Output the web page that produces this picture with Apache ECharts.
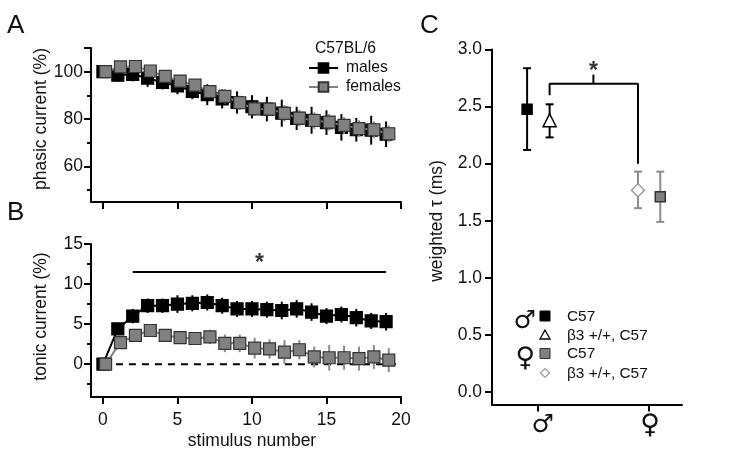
<!DOCTYPE html>
<html><head><meta charset="utf-8">
<style>html,body{margin:0;padding:0;background:#fff}#c{width:742px;height:472px}</style>
<script src="https://cdn.jsdelivr.net/npm/echarts@6/dist/echarts.min.js"></script>
</head><body><div id="c"></div>
<script>
const stimulus = [0,1,2,3,4,5,6,7,8,9,10,11,12,13,14,15,16,17,18,19];
const femaleShift = 0.18;
const phasicMales = [100,98.5,98.9,97.3,95.5,94,91.7,90.3,88.5,87,85.2,84.2,82.5,80.3,79.5,78.5,76.5,75.5,75.3,73.6];
const phasicMalesErr = [0.8,2.8,3,3.7,3,3.5,3.3,4.4,4,4.7,4.9,5.2,5.7,4.9,5.7,5.2,5.6,5,6.1,5.4];
const phasicFemales = [100,102,102.2,100.3,98,96,94.3,91.6,89.6,86.9,84.3,84.2,82.4,80.4,79.4,78.7,77.3,76,75.5,73.8];
const phasicFemalesErr = [0.5,1,1.5,1.5,2,2,2.5,2.5,3,3,3,3,3.5,3.5,3.5,3.5,3.5,3.5,3.5,3.5];
const tonicMales = [0,4.4,6,7.3,7.3,7.5,7.6,7.7,7.3,6.9,6.9,6.8,6.7,6.9,6.5,6,6.2,5.8,5.4,5.3];
const tonicMalesErr = [0,0.6,0.9,0.9,0.9,1.1,1,1,1,1,1,1,1.1,1.1,1.1,1,1,1.1,1,1.1];
const tonicFemales = [0,2.7,3.6,4.2,3.6,3.3,3.2,3.4,2.6,2.6,2,1.9,1.5,1.8,0.9,0.8,0.8,0.7,0.9,0.5];
const tonicFemalesErr = [0,0.6,0.7,0.7,0.7,0.8,0.8,0.9,1.1,1.1,1.3,1.2,1.5,1.2,1.3,1.6,1.5,1.5,1.5,1.5];
const xTicks = [0,5,10,15,20];
const phasicMajor = [60,80,100,110], phasicLabels = [60,80,100], phasicMinor = [50,70,90];
const tonicMajor = [0,5,10,15], tonicMinor = [-2.5,2.5,7.5,12.5];
const tauTicks = [0,0.5,1,1.5,2,2.5,3];
const sexTicks = [1,2];
const tauPoints = {
  maleC57:{x:0.905,y:2.477,lo:2.12,hi:2.836},
  maleB3:{x:1.107,y:2.38,lo:2.23,hi:2.52},
  femaleB3:{x:1.90,y:1.767,lo:1.61,hi:1.93},
  femaleC57:{x:2.10,y:1.71,lo:1.49,hi:1.93}
};
const tauBracket = [[1.107,2.6],[1.107,2.7],[1.9,2.7],[1.9,2.0]];
const tauStem = [[1.5,2.7],[1.5,2.78]];
const tonicSigLine = [[2,11.5],[19,11.5]];
const baseline = [[0,0],[20,0]];

const FONT = '"Liberation Sans", Arial, sans-serif';
const INK = '#111', GREY = '#808080', GREYLINE = '#8c8c8c', EDGE = '#333';

function errSeries(points, color, xi, yi, cap, z){
  return {type:'custom', xAxisIndex:xi, yAxisIndex:yi, z:z, silent:true, clip:false,
    data:points,
    encode:{x:0,y:[1,2]},
    renderItem:function(p,api){
      const a=api.coord([api.value(0),api.value(1)]), b=api.coord([api.value(0),api.value(2)]);
      const st={stroke:color,lineWidth:2,fill:null};
      const kids=[{type:'line',shape:{x1:a[0],y1:a[1],x2:b[0],y2:b[1]},style:st}];
      if(cap){
        kids.push({type:'line',shape:{x1:a[0]-cap,y1:a[1],x2:a[0]+cap,y2:a[1]},style:st});
        kids.push({type:'line',shape:{x1:b[0]-cap,y1:b[1],x2:b[0]+cap,y2:b[1]},style:st});
      }
      return {type:'group',children:kids};
    }};
}
const errs=(vals,e,shift)=>vals.map((v,i)=>[stimulus[i]+shift,v-e[i],v+e[i]]);
const pts=(vals,shift)=>vals.map((v,i)=>[stimulus[i]+shift,v]);
function lineS(name,data,color,fill,border,xi,yi,z){
  return {name:name,type:'line',xAxisIndex:xi,yAxisIndex:yi,z:z,data:data,symbol:'rect',symbolSize:12,
    showSymbol:true,silent:true,animation:false,clip:false,
    lineStyle:{color:color,width:2},itemStyle:{color:fill,borderColor:border,borderWidth:1.2}};
}
function plain(data,xi,yi,z,extra){
  return {type:'line',xAxisIndex:xi,yAxisIndex:yi,z:z,data:data,symbol:'none',silent:true,clip:false,
    lineStyle:Object.assign({color:'#000',width:2},extra||{})};
}
function star(pt,xi,yi){
  return {type:'scatter',xAxisIndex:xi,yAxisIndex:yi,z:9,data:[pt],symbolSize:0,silent:true,clip:false,
    label:{show:true,formatter:'*',position:'inside',fontFamily:FONT,fontWeight:'bold',fontSize:23,color:'#000'}};
}
function tauMark(p,symbol,size,fill,border){
  return {type:'scatter',xAxisIndex:2,yAxisIndex:4,z:6,data:[[p.x,p.y]],symbol:symbol,symbolSize:size,silent:true,clip:false,
    itemStyle:{color:fill,borderColor:border,borderWidth:1.5,opacity:1}};
}
const axisLine={show:true,onZero:false,lineStyle:{color:'#000',width:2}};
const tick=(vals,len)=>({show:true,length:len,customValues:vals,lineStyle:{color:'#000',width:2}});
const lab=(vals,extra)=>Object.assign({show:true,customValues:vals,fontFamily:FONT,fontSize:17.5,color:INK,margin:8},extra||{});
const nameStyle=(pad)=>({fontFamily:FONT,fontSize:17.5,color:INK,padding:pad});
function minorAxis(grid,min,max,vals){
  return {type:'value',gridIndex:grid,min:min,max:max,position:'left',splitLine:{show:false},
    axisLine:{show:false,onZero:false},axisLabel:{show:false},axisTick:tick(vals,4)};
}
const sexGlyph={fontFamily:'"DejaVu Sans"',color:INK,textBorderColor:'#fff',textBorderWidth:0.8};
const option={
  animation:false,
  backgroundColor:'#fff',
  textStyle:{fontFamily:FONT},
  legend:{data:['males','females'],orient:'vertical',left:303,top:55,itemWidth:29,itemHeight:12,itemGap:3,selectedMode:false,
    textStyle:{fontFamily:FONT,fontSize:15.7,color:INK,padding:[0,0,0,3]}},
  grid:[
    {left:91,top:48,width:310,height:154},
    {left:91,top:244,width:310,height:153},
    {left:492,top:49.5,width:190,height:355}
  ],
  xAxis:[
    {type:'value',gridIndex:0,min:-0.8,max:20,position:'bottom',splitLine:{show:false},axisLine:axisLine,axisTick:tick(xTicks,7),axisLabel:{show:false}},
    {type:'value',gridIndex:1,min:-0.8,max:20,position:'bottom',splitLine:{show:false},axisLine:axisLine,axisTick:tick(xTicks,7),axisLabel:lab(xTicks,{margin:14}),
      name:'stimulus number',nameLocation:'middle',nameGap:35,nameTextStyle:nameStyle([0,0,0,12])},
    {type:'value',gridIndex:2,min:0.59,max:2.295,position:'bottom',splitLine:{show:false},axisLine:axisLine,axisTick:tick(sexTicks,7),
      axisLabel:{show:true,customValues:sexTicks,margin:8,
        formatter:v=>v===1?'{m|♂}':'{f|♀}',
        rich:{m:Object.assign({fontSize:25,padding:[0,0,0,10]},sexGlyph),f:Object.assign({fontSize:27,padding:[0,0,0,2]},sexGlyph)}}}
  ],
  yAxis:[
    {type:'value',gridIndex:0,min:45,max:110,position:'left',splitLine:{show:false},axisLine:axisLine,axisTick:tick(phasicMajor,7),axisLabel:lab(phasicLabels),
      name:'phasic current (%)',nameLocation:'middle',nameGap:41,nameTextStyle:nameStyle([0,0,0,12])},
    minorAxis(0,45,110,phasicMinor),
    {type:'value',gridIndex:1,min:-4.1,max:15,position:'left',splitLine:{show:false},axisLine:axisLine,axisTick:tick(tonicMajor,7),axisLabel:lab(tonicMajor),
      name:'tonic current (%)',nameLocation:'middle',nameGap:41,nameTextStyle:nameStyle([0,0,0,8])},
    minorAxis(1,-4.1,15,tonicMinor),
    {type:'value',gridIndex:2,min:-0.11,max:3,position:'left',splitLine:{show:false},axisLine:axisLine,axisTick:tick(tauTicks,7),
      axisLabel:lab(tauTicks,{formatter:v=>v.toFixed(1),margin:10}),
      name:'weighted τ (ms)',nameLocation:'middle',nameGap:46,nameTextStyle:nameStyle([0,0,0,12])}
  ],
  series:[
    errSeries(errs(phasicMales,phasicMalesErr,0),'#000',0,0,0,2),
    lineS('males',pts(phasicMales,0),'#000','#000','#000',0,0,3),
    errSeries(errs(phasicFemales,phasicFemalesErr,femaleShift),GREYLINE,0,0,0,4),
    lineS('females',pts(phasicFemales,femaleShift),GREY,GREY,EDGE,0,0,5),

    plain(baseline,1,2,1,{type:[7,6]}),
    errSeries(errs(tonicMales,tonicMalesErr,0),'#000',1,2,0,2),
    lineS('males',pts(tonicMales,0),'#000','#000','#000',1,2,3),
    errSeries(errs(tonicFemales,tonicFemalesErr,femaleShift),GREYLINE,1,2,0,4),
    lineS('females',pts(tonicFemales,femaleShift),GREY,GREY,EDGE,1,2,5),
    plain(tonicSigLine,1,2,6),
    star([10.5,12.5],1,2),

    errSeries([[tauPoints.maleC57.x,tauPoints.maleC57.lo,tauPoints.maleC57.hi],[tauPoints.maleB3.x,tauPoints.maleB3.lo,tauPoints.maleB3.hi]],'#000',2,4,4,3),
    errSeries([[tauPoints.femaleB3.x,tauPoints.femaleB3.lo,tauPoints.femaleB3.hi],[tauPoints.femaleC57.x,tauPoints.femaleC57.lo,tauPoints.femaleC57.hi]],GREYLINE,2,4,4,3),
    tauMark(tauPoints.maleC57,'rect',10,'#000','#000'),
    tauMark(tauPoints.maleB3,'triangle',13,'#fff','#000'),
    tauMark(tauPoints.femaleB3,'diamond',13,'#fff','#9a9a9a'),
    tauMark(tauPoints.femaleC57,'rect',10,GREY,EDGE),
    plain(tauBracket,2,4,2),
    plain(tauStem,2,4,2),
    star([1.5,2.81],2,4)
  ],
  graphic:[
    ...[['A',7,13],['B',7,200],['C',420,13]].map(a=>({type:'text',left:a[1],top:a[2],style:{text:a[0],font:'26px '+FONT,fill:INK}})),
    {type:'text',left:315,top:41,style:{text:'C57BL/6',font:'15.7px '+FONT,fill:INK}},
    {type:'text',left:513,top:309,style:{text:'♂',font:'25px "DejaVu Sans"',fill:INK,stroke:'#fff',lineWidth:0.8}},
    {type:'text',left:515,top:345,style:{text:'♀',font:'27px "DejaVu Sans"',fill:INK,stroke:'#fff',lineWidth:0.8}},
    {type:'rect',shape:{x:540,y:311,width:10,height:10},style:{fill:'#000',stroke:'#000'}},
    {type:'polygon',shape:{points:[[545,330],[550,339],[540,339]]},style:{fill:'#fff',stroke:'#000',lineWidth:1.3}},
    {type:'rect',shape:{x:540,y:348.5,width:10,height:10},style:{fill:GREY,stroke:EDGE,lineWidth:1}},
    {type:'polygon',shape:{points:[[545,368.5],[549.5,373],[545,377.5],[540.5,373]]},style:{fill:'#fff',stroke:'#9a9a9a',lineWidth:1.2}},
    ...[['C57',309],['β3 +/+, C57',328],['C57',346],['β3 +/+, C57',366]].map(a=>({type:'text',left:567,top:a[1],style:{text:a[0],font:'15.4px '+FONT,fill:INK}}))
  ]
};
echarts.init(document.getElementById('c'),null,{renderer:'canvas'}).setOption(option);
</script></body></html>
